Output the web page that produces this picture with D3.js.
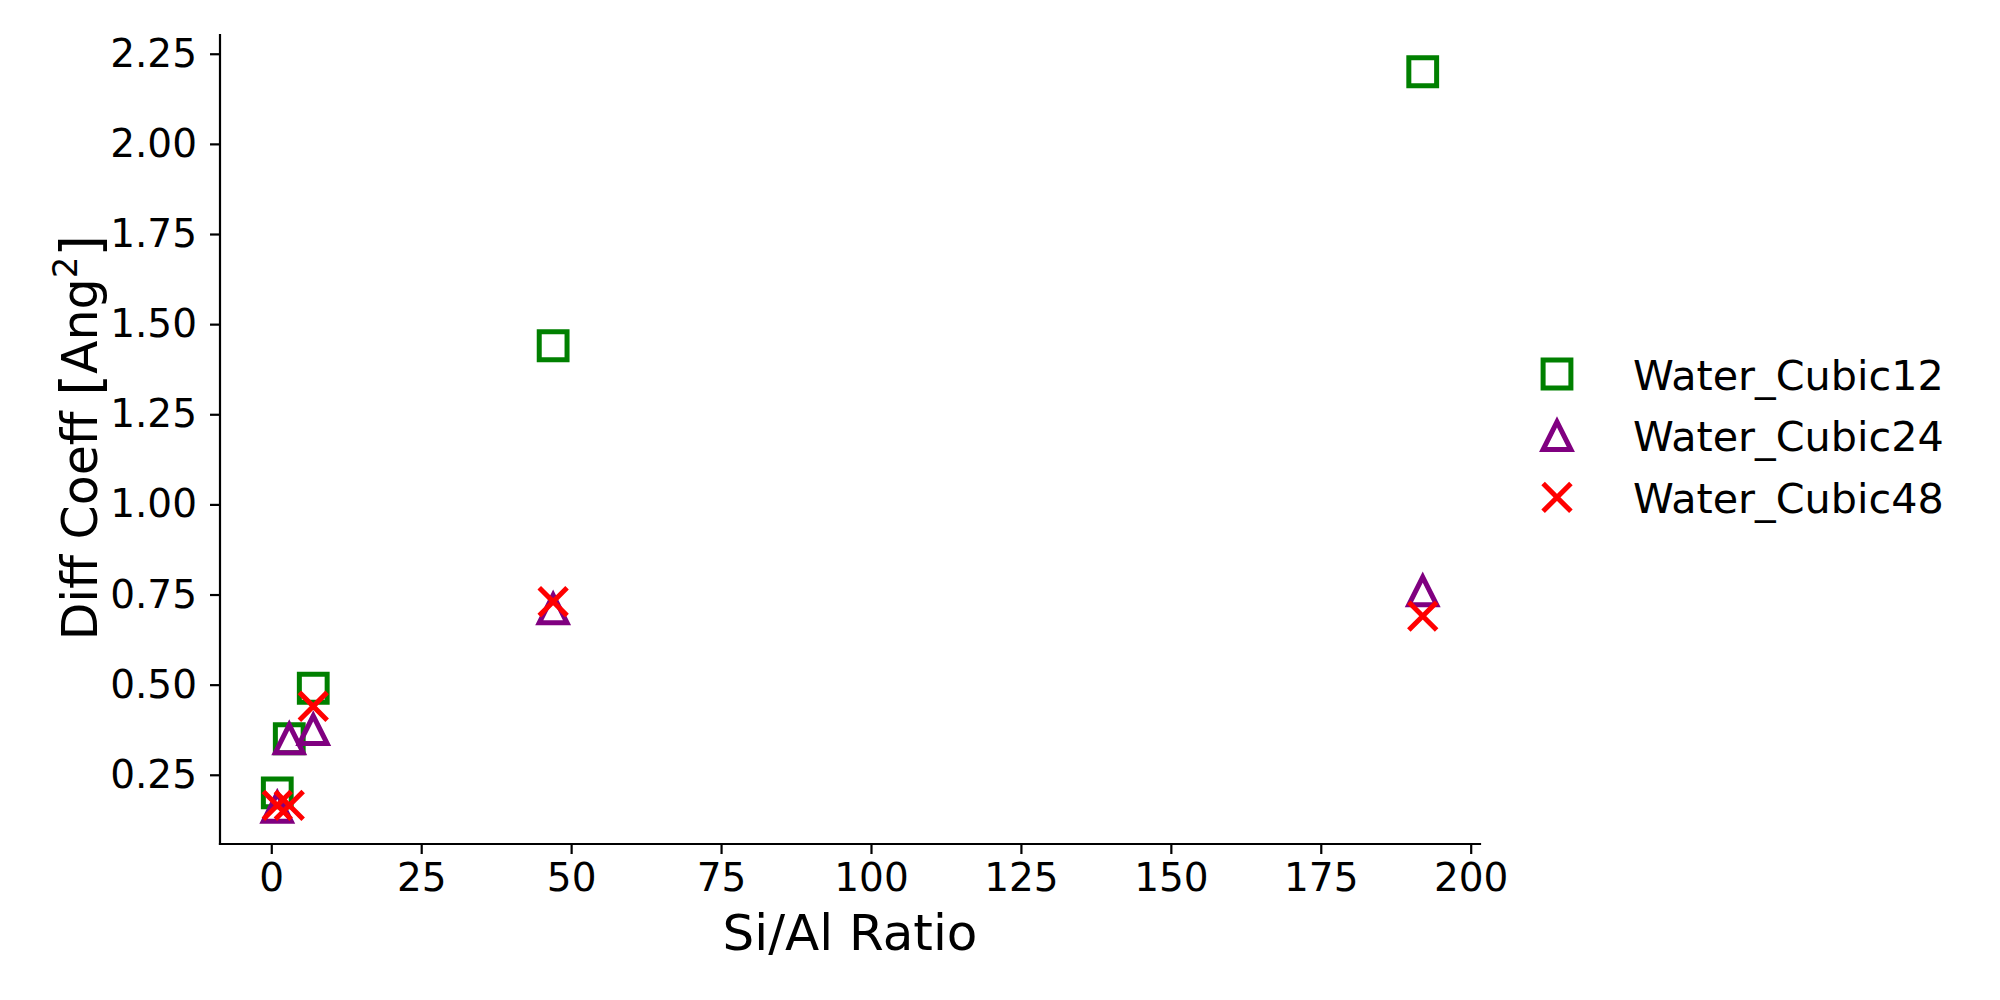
<!DOCTYPE html>
<html>
<head>
<meta charset="utf-8">
<script src="https://cdn.jsdelivr.net/npm/d3@7"></script>
<style>
  html, body { margin: 0; padding: 0; background: #ffffff; }
  svg { display: block; font-family: "DejaVu Sans", sans-serif; }
</style>
</head>
<body>
<svg id="chart" width="2000" height="1000"></svg>
<script>
// ---- data ----
const siAlRatio = [1, 3, 7, 47, 192];
const waterCubic12 = [0.20, 0.35, 0.49, 1.44, 2.20];
const waterCubic24 = [0.16, 0.35, 0.375, 0.71, 0.76];
const waterCubic48 = [0.165, 0.165, 0.44, 0.73, 0.69];
const seriesNames = ["Water_Cubic12", "Water_Cubic24", "Water_Cubic48"];
const xTicks = [0, 25, 50, 75, 100, 125, 150, 175, 200];
const yTicks = [0.25, 0.50, 0.75, 1.00, 1.25, 1.50, 1.75, 2.00, 2.25];

// ---- layout ----
const W = 2000, H = 1000;
const margin = { left: 220, right: 520, top: 35, bottom: 156 };
const plotW = W - margin.left - margin.right;
const plotH = H - margin.top - margin.bottom;

const series = [
  { name: seriesNames[0], values: waterCubic12, color: "#008000", shape: "square" },
  { name: seriesNames[1], values: waterCubic24, color: "#800080", shape: "triangle" },
  { name: seriesNames[2], values: waterCubic48, color: "#ff0000", shape: "x" }
];

const allY = series.flatMap(s => s.values);
const xMin = d3.min(siAlRatio), xMax = d3.max(siAlRatio);
const yMin = d3.min(allY), yMax = d3.max(allY);
const xPad = (xMax - xMin) * 0.05, yPad = (yMax - yMin) * 0.05;

const x = d3.scaleLinear().domain([xMin - xPad, xMax + xPad]).range([0, plotW]);
const y = d3.scaleLinear().domain([yMin - yPad, yMax + yPad]).range([plotH, 0]);

const svg = d3.select("#chart");
const g = svg.append("g").attr("transform", `translate(${margin.left},${margin.top})`);

// ---- axes ----
const tickFont = 39;
const xAxis = g.append("g")
  .attr("transform", `translate(0,${plotH})`)
  .call(d3.axisBottom(x).tickValues(xTicks).tickFormat(d3.format("d")).tickSize(10).tickPadding(9));
const yAxis = g.append("g")
  .call(d3.axisLeft(y).tickValues(yTicks).tickFormat(d3.format(".2f")).tickSize(10).tickPadding(13));

[xAxis, yAxis].forEach(a => {
  a.selectAll(".tick line").attr("stroke", "#000").attr("stroke-width", 2.2);
  a.selectAll(".tick text").attr("fill", "#000").style("font-size", tickFont + "px")
    .style("font-family", "DejaVu Sans");
});
xAxis.select(".domain").remove();
yAxis.select(".domain").remove();
g.append("line").attr("x1", 0).attr("x2", plotW).attr("y1", plotH).attr("y2", plotH)
  .attr("stroke", "#000").attr("stroke-width", 2.2).attr("stroke-linecap", "square");
g.append("line").attr("x1", 0).attr("x2", 0).attr("y1", 0).attr("y2", plotH)
  .attr("stroke", "#000").attr("stroke-width", 2.2).attr("stroke-linecap", "square");

// ---- axis labels ----
svg.append("text")
  .attr("x", margin.left + plotW / 2).attr("y", 950)
  .attr("text-anchor", "middle")
  .style("font-size", "50px").attr("fill", "#000")
  .text("Si/Al Ratio");

const yl = svg.append("text")
  .attr("transform", `translate(97,${margin.top + plotH / 2 - 2}) rotate(-90)`)
  .attr("text-anchor", "middle")
  .style("font-size", "49px").attr("fill", "#000");
yl.append("tspan").text("Diff Coeff ");
yl.append("tspan").style("font-size", "56px").attr("dy", 3).text("[");
yl.append("tspan").attr("dy", -3).text("Ang");
yl.append("tspan").attr("dy", -20).style("font-size", "34px").text("2");
yl.append("tspan").attr("dy", 23).style("font-size", "56px").text("]");

// ---- markers ----
const ms = 27.8, sw = 5;
function markerPath(shape) {
  const h = ms / 2;
  if (shape === "square") return `M${-h},${-h}H${h}V${h}H${-h}Z`;
  if (shape === "triangle") return `M0,${-h}L${h},${h}L${-h},${h}Z`;
  return `M${-h},${-h}L${h},${h}M${-h},${h}L${h},${-h}`;
}

series.forEach(s => {
  g.append("g").selectAll("path")
    .data(siAlRatio.map((xv, i) => ({ x: xv, y: s.values[i] })))
    .join("path")
    .attr("transform", d => `translate(${x(d.x)},${y(d.y)})`)
    .attr("d", markerPath(s.shape))
    .attr("fill", "none")
    .attr("stroke", s.color)
    .attr("stroke-width", sw)
    .attr("stroke-linejoin", "miter")
    .attr("stroke-linecap", "butt");
});

// ---- legend ----
const legend = svg.append("g").attr("transform", "translate(1557,374)");
series.forEach((s, i) => {
  const row = legend.append("g").attr("transform", `translate(0,${i * 61.7})`);
  row.append("path")
    .attr("d", markerPath(s.shape))
    .attr("fill", "none").attr("stroke", s.color).attr("stroke-width", sw)
    .attr("stroke-linejoin", "miter").attr("stroke-linecap", "butt");
  row.append("text")
    .attr("x", 76).attr("y", 15.5)
    .style("font-size", "41.3px").attr("fill", "#000")
    .text(s.name);
});
</script>
</body>
</html>
